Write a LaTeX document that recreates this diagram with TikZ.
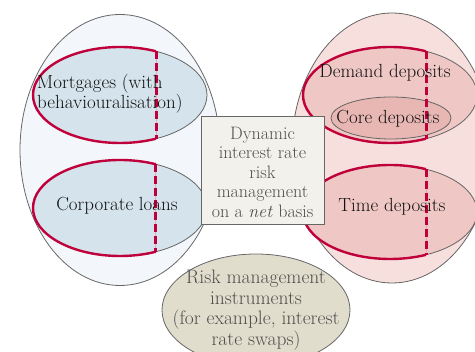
\documentclass[tikz,border=0pt]{standalone}
\usetikzlibrary{shapes.geometric}
\definecolor{leftbig}{HTML}{F3F7FB}
\definecolor{leftin}{HTML}{D5E3EC}
\definecolor{rightbig}{HTML}{F6DFDC}
\definecolor{rightin}{HTML}{EFC8C5}
\definecolor{corefill}{HTML}{E8B7B3}
\definecolor{hired}{HTML}{C0003A}
\definecolor{boxfill}{HTML}{F3F1EB}
\definecolor{instfill}{HTML}{E1DDCC}
\definecolor{edgegray}{HTML}{666666}
\definecolor{txtdark}{HTML}{111111}
\definecolor{txtgray}{HTML}{4F4F4F}
\definecolor{dashpink}{HTML}{E8A8B8}
\tikzset{
  blob/.style={ellipse, draw=edgegray, line width=0.8pt, inner sep=0pt},
  lbl/.style={font=\fontsize{19}{20}\selectfont, text=txtdark, inner sep=0pt},
  glbl/.style={font=\fontsize{19.5}{20.5}\selectfont, text=txtgray, inner sep=0pt, align=center},
  redarc/.style={draw=hired, line width=2.4pt},
  reddash/.style={draw=hired, line width=3pt, dash pattern=on 8pt off 4pt},
  pinkline/.style={draw=dashpink, line width=0.6pt},
}
\begin{document}
\begin{tikzpicture}[x=1pt,y=-1pt]
\useasboundingbox (0,0) rectangle (475,352);
% big containers
\node[blob, fill=leftbig, minimum width=200pt, minimum height=271pt] (assets) at (120,150) {};
\node[blob, fill=rightbig, minimum width=200pt, minimum height=270pt] (liabs) at (392,148) {};
% inner ellipses
\node[blob, fill=leftin, minimum width=174pt, minimum height=96pt] (mort) at (120,95) {};
\node[blob, fill=leftin, minimum width=174pt, minimum height=96pt] (corp) at (120,208) {};
\node[blob, fill=rightin, minimum width=174pt, minimum height=96pt] (demand) at (390,95) {};
\node[blob, fill=corefill, minimum width=120pt, minimum height=42pt] (core) at (391,118) {};
\node[blob, fill=rightin, minimum width=174pt, minimum height=94pt] (time) at (390,212) {};
% red highlighted parts
\begin{scope}
  \clip (0,0) rectangle (156,352);
  \draw[redarc] (mort.center) ellipse [x radius=87, y radius=48];
  \draw[redarc] (corp.center) ellipse [x radius=87, y radius=48];
\end{scope}
\begin{scope}
  \clip (240,0) rectangle (426,352);
  \draw[redarc] (demand.center) ellipse [x radius=87, y radius=48];
  \draw[redarc] (time.center) ellipse [x radius=87, y radius=47];
\end{scope}
\coordinate (m1) at (156,51.3);  \coordinate (m2) at (156,138.7);
\coordinate (c1) at (155,164);   \coordinate (c2) at (155,252);
\coordinate (d1) at (426,51.3);  \coordinate (d2) at (426,138.7);
\coordinate (t1) at (426,169.2); \coordinate (t2) at (426,254.8);
\foreach \a/\b in {m1/m2,c1/c2,d1/d2,t1/t2}{
  \draw[pinkline] (\a) -- (\b);
  \draw[reddash] (\a) -- (\b);
}
% labels
\node[lbl, anchor=west, align=left] (mortlbl) at (37,94) {Mortgages (with\\behaviouralisation)};
\node[lbl] (corplbl) at (117,206) {Corporate loans};
\node[lbl] (demandlbl) at (385,73) {Demand deposits};
\node[lbl] (corelbl) at (388,119) {Core deposits};
\node[lbl] (timelbl) at (392,207) {Time deposits};
% central box
\node[draw=edgegray, line width=0.8pt, fill=boxfill, minimum width=123pt, minimum height=108pt, inner sep=0pt] (dyn) at (262.5,170) {};
\node[glbl, font=\fontsize{18}{19.5}\selectfont] (dynlbl) at (262.5,172) {Dynamic\\interest rate\\risk\\management\\on a \emph{net} basis};
% instruments
\node[blob, fill=instfill, minimum width=188pt, minimum height=112pt] (inst) at (256,310) {};
\node[glbl] (instlbl) at (256,310) {Risk management\\instruments\\(for example, interest\\rate swaps)};
\end{tikzpicture}
\end{document}
